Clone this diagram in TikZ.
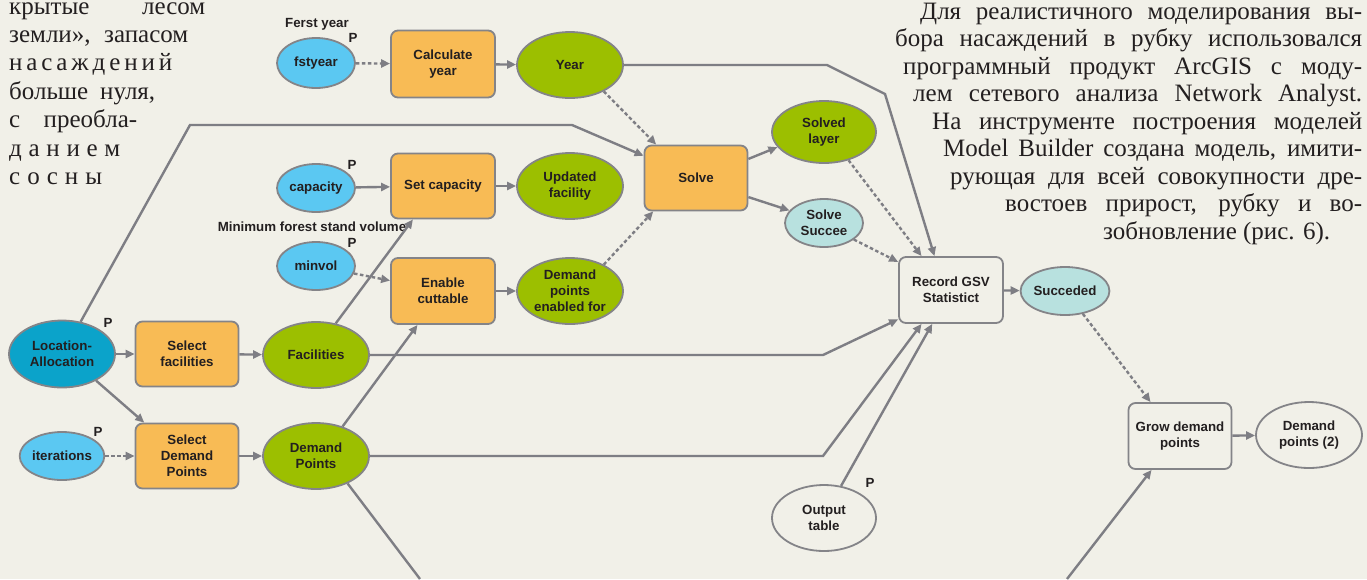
\documentclass[tikz,border=0pt]{standalone}
\usepackage{fontspec}
\setmainfont{Liberation Serif}
\newfontfamily\labfont{Liberation Sans}
\usetikzlibrary{shapes.geometric,arrows.meta,calc}
\definecolor{bgc}{RGB}{241,240,232}
\definecolor{orng}{RGB}{248,187,85}
\definecolor{grn}{RGB}{156,191,0}
\definecolor{lblue}{RGB}{91,200,242}
\definecolor{dblue}{RGB}{11,163,202}
\definecolor{cyanl}{RGB}{184,225,223}
\definecolor{bordc}{RGB}{132,132,136}
\definecolor{connc}{RGB}{126,126,132}
\definecolor{txtc}{RGB}{35,31,32}
\newcommand\mylab{\labfont\bfseries\fontsize{13.3}{16}\selectfont}
\newcommand\mybody{\fontsize{25}{27.5}\selectfont}
\tikzset{
 conn/.style={draw=connc, line width=2.4pt, -{Triangle[length=9pt,width=8pt]}},
 connplain/.style={draw=connc, line width=2.4pt},
 dconn/.style={conn, dash pattern=on 3.5pt off 2.5pt},
 procbox/.style={rectangle, rounded corners=7pt, draw=bordc, line width=1.8pt, fill=orng, minimum width=104pt, minimum height=66pt, align=center, font=\mylab, text=txtc, inner sep=2pt},
 toolbox/.style={procbox, fill=bgc},
 elli/.style={ellipse, draw=bordc, line width=1.8pt, align=center, font=\mylab, text=txtc, inner sep=0pt},
 bigell/.style={elli, fill=grn, minimum width=106pt, minimum height=66pt},
 smallell/.style={elli, fill=lblue, minimum width=78pt, minimum height=48pt},
 plabel/.style={font=\mylab, text=txtc, inner sep=0pt},
 ltext/.style={anchor=base west, inner sep=0pt, font=\mybody, text=txtc},
}
\begin{document}
\begin{tikzpicture}[x=1pt,y=-1pt]
\fill[bgc] (0,0) rectangle (1367,579);
\useasboundingbox (0,0) rectangle (1367,579);

% ---- left column text
\node[ltext] (l1) at (9,14) {\makebox[196pt][s]{крытые лесом}};
\node[ltext] (l2) at (9,42.4) {\makebox[179pt][s]{земли», запасом}};
\node[ltext] (l3) at (9,70.8) {\makebox[163pt][s]{н\hfil а\hfil с\hfil а\hfil ж\hfil д\hfil е\hfil н\hfil и\hfil й}};
\node[ltext] (l4) at (9,99.2) {\makebox[146pt][s]{больше нуля,}};
\node[ltext] (l5) at (9,127.6) {\makebox[128pt][s]{с преобла-}};
\node[ltext] (l6) at (9,156) {\makebox[111pt][s]{д\hfil а\hfil н\hfil и\hfil е\hfil м}};
\node[ltext] (l7) at (9,184.4) {\makebox[93pt][s]{с\hfil о\hfil с\hfil н\hfil ы}};

% ---- right column text
\node[ltext] (r1) at (920,19) {\makebox[442pt][s]{Для реалистичного моделирования вы-}};
\node[ltext] (r2) at (895,46.5) {\makebox[467pt][s]{бора насаждений в рубку использовался}};
\node[ltext] (r3) at (903,74) {\makebox[459pt][s]{программный продукт ArcGIS с моду-}};
\node[ltext] (r4) at (913,101.5) {\makebox[449pt][s]{лем сетевого анализа Network Analyst.}};
\node[ltext] (r5) at (932,129) {\makebox[430pt][s]{На инструменте построения моделей}};
\node[ltext] (r6) at (943,156.5) {\makebox[419pt][s]{Model Builder создана модель, имити-}};
\node[ltext] (r7) at (950,184) {\makebox[412pt][s]{рующая для всей совокупности дре-}};
\node[ltext] (r8) at (1005,211.5) {\makebox[357pt][s]{востоев прирост, рубку и во-}};
\node[ltext] (r9) at (1103,239) {зобновление (рис. 6).};

% ---- nodes
\node[smallell, minimum height=50pt] (fst) at (316,63) {fstyear};
\node[procbox, minimum height=67pt] (calc) at (443,64) {Calculate\\year};
\node[bigell] (year) at (570,65) {Year};
\node[smallell] (cap) at (316,188) {capacity};
\node[procbox, minimum height=65pt] (setcap) at (443,186) {Set capacity};
\node[bigell] (upd) at (570,186) {Updated\\facility};
\node[smallell] (minvol) at (316,266) {minvol};
\node[procbox] (enable) at (443,291) {Enable\\cuttable};
\node[bigell] (dmen) at (570,291) {Demand\\points\\enabled for};
\node[procbox, minimum width=103pt, minimum height=65pt] (solve) at (696,178) {Solve};
\node[bigell, minimum width=104pt, minimum height=62pt] (solved) at (824,132) {Solved\\layer};
\node[elli, fill=cyanl, minimum width=78pt, minimum height=48pt] (succ1) at (824,223) {Solve\\Succee};
\node[toolbox] (rec) at (951,290) {Record GSV\\Statistict};
\node[elli, fill=cyanl, minimum width=76pt, minimum height=48pt] (succ2) at (1065,291) {Succeded};
\node[toolbox, minimum width=103pt] (grow) at (1180,436) {Grow demand\\points};
\node[elli, fill=bgc, minimum width=106pt, minimum height=66pt] (dp2) at (1309,435) {Demand\\points (2)};
\node[elli, fill=bgc, minimum width=104pt, minimum height=66pt] (out) at (824,518) {Output\\table};
\node[elli, fill=dblue, minimum width=106pt, minimum height=67pt] (la) at (62,354) {Location-\\Allocation};
\node[procbox, minimum width=103pt, minimum height=65pt] (selfac) at (187,354) {Select\\facilities};
\node[bigell] (fac) at (316,355) {Facilities};
\node[smallell] (iter) at (62,456) {iterations};
\node[procbox, minimum width=103pt, minimum height=65pt] (seldem) at (187,456) {Select\\Demand\\Points};
\node[bigell] (dem) at (316,456) {Demand\\Points};

% ---- labels
\node[plabel] (ferst) at (317,24) {Ferst year};
\node[plabel] (pfst) at (353,38) {P};
\node[plabel] (pcap) at (352,165) {P};
\node[plabel] (minlab) at (312,227) {Minimum forest stand volume};
\node[plabel] (pmin) at (352,243) {P};
\node[plabel] (pla) at (108,323) {P};
\node[plabel] (piter) at (98,432) {P};
\node[plabel] (pout) at (870,483) {P};

% ---- free coordinates
\coordinate (y1) at (827,65);
\coordinate (y2) at (885,94);
\coordinate (c1) at (190,125);
\coordinate (c2) at (572,125);
\coordinate (f1) at (823,355);
\coordinate (d1) at (823,456);
\coordinate (b1) at (420,579);
\coordinate (b2) at (1067,579);

% ---- connectors
\draw[dconn] (fst) -- (calc);
\draw[conn] (calc) -- (year);
\draw[conn] (year.east) -- (y1) -- (y2) -- (rec.116);
\draw[dconn] (year.-38) -- (solve.140);
\draw[conn] (la.60) -- (c1) -- (c2) -- (solve.157);
\draw[conn] (cap) -- (setcap);
\draw[conn] (setcap) -- (upd);
\draw[dconn] (minvol) -- (enable);
\draw[conn] (enable) -- (dmen);
\draw[dconn] (dmen.38) -- (solve.-142);
\draw[conn] (solve.20) -- (solved.198);
\draw[conn] (solve.-20) -- (succ1.160);
\draw[dconn] (solved.-49) -- (rec.131);
\draw[dconn] (succ1.-29) -- (rec.152);
\draw[conn] (rec) -- (succ2);
\draw[dconn] (succ2.-52) -- (grow.131);
\draw[conn] (grow) -- (dp2);
\draw[conn] (la) -- (selfac);
\draw[conn] (selfac) -- (fac);
\draw[conn] (la.-38) -- (seldem.142);
\draw[dconn] (iter) -- (seldem);
\draw[conn] (seldem) -- (dem);
\draw[conn] (fac.58) -- (setcap.-132);
\draw[conn] (dem.48) -- (enable.-127);
\draw[conn] (fac.east) -- (f1) -- (rec.-151);
\draw[conn] (dem.east) -- (d1) -- (rec.-131);
\draw[conn] (out.62) -- (rec.-119);
\draw[connplain] (dem.-41) -- (b1);
\draw[conn] (b2) -- (grow.-130);
\end{tikzpicture}
\end{document}
